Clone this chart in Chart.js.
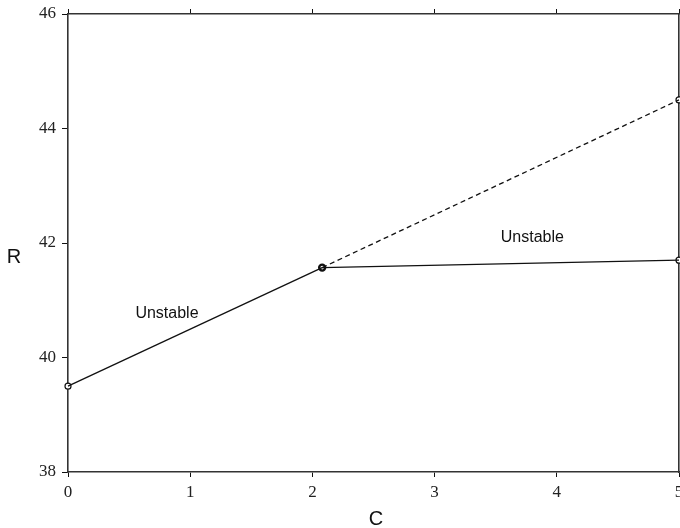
<!DOCTYPE html>
<html>
<head>
<meta charset="utf-8">
<script src="https://cdn.jsdelivr.net/npm/chart.js@4"></script>
<style>
    body { margin: 0; background: #fff; }
    canvas { display: block; }
</style>
</head>
<body>
<canvas id="grafico" width="680" height="528"></canvas>
<script>
// =====================================
// DATOS
// =====================================

const xTicks = [0, 1, 2, 3, 4, 5];
const yTicks = [38, 40, 42, 44, 46];

// rama inestable inferior
const lowerC = [0, 2.08];
const lowerR = [39.5, 41.57];

// rama solida superior
const upperC = [2.08, 5];
const upperR = [41.57, 41.7];

// rama discontinua
const dashC = [2.08, 5];
const dashR = [41.57, 44.5];

// marcadores
const markerC = [0, 2.08, 5, 5];
const markerR = [39.5, 41.57, 41.7, 44.5];

// textos
const notes = ["Unstable", "Unstable"];
const noteC = [0.81, 3.8];
const noteR = [40.77, 42.1];

const pts = (xs, ys) => xs.map((x, i) => ({ x, y: ys[i] }));

// =====================================
// TEXTOS (titulos y anotaciones)
// =====================================

const textos = {
    id: "textos",
    afterDraw(chart) {
        const ctx = chart.ctx;
        const sx = chart.scales.x;
        const sy = chart.scales.y;
        ctx.save();
        ctx.fillStyle = "#111";
        ctx.textAlign = "center";
        ctx.textBaseline = "middle";
        ctx.font = "16px 'Liberation Sans', Arial, sans-serif";
        notes.forEach((t, i) => {
            ctx.fillText(t, sx.getPixelForValue(noteC[i]), sy.getPixelForValue(noteR[i]));
        });
        ctx.font = "20px 'Liberation Sans', Arial, sans-serif";
        ctx.fillText("C", sx.getPixelForValue(2.52), 519);
        ctx.fillText("R", 14, sy.getPixelForValue(41.75));
        ctx.restore();
    }
};

// =====================================
// GRAFICO
// =====================================

const fuenteTicks = { family: "'Liberation Serif', 'Times New Roman', serif", size: 17 };

// tamaño fijo de cada eje, sin relleno extra
function fijar(tam, esVertical) {
    return scale => {
        if (esVertical) scale.width = tam; else scale.height = tam;
        scale.paddingLeft = 0;
        scale.paddingRight = 0;
        scale.paddingTop = 0;
        scale.paddingBottom = 0;
    };
}

new Chart(document.getElementById("grafico"), {
    type: "scatter",
    data: {
        datasets: [
            {
                data: pts(lowerC, lowerR),
                showLine: true,
                borderColor: "#111",
                borderWidth: 1.3,
                pointRadius: 0
            },
            {
                data: pts(upperC, upperR),
                showLine: true,
                borderColor: "#111",
                borderWidth: 1.3,
                pointRadius: 0
            },
            {
                data: pts(dashC, dashR),
                showLine: true,
                borderColor: "#111",
                borderWidth: 1.3,
                borderDash: [5, 3.5],
                pointRadius: 0
            },
            {
                data: pts(markerC, markerR),
                showLine: false,
                pointRadius: 3,
                pointBackgroundColor: "#fff",
                pointBorderColor: "#111",
                pointBorderWidth: [1.2, 2.4, 1.2, 1.2]
            }
        ]
    },
    options: {
        responsive: false,
        animation: false,
        clip: false,
        layout: { padding: 0, autoPadding: false },
        plugins: {
            legend: { display: false },
            tooltip: { enabled: false }
        },
        scales: {
            x: {
                type: "linear",
                position: "bottom",
                min: 0,
                max: 5,
                afterBuildTicks: s => { s.ticks = xTicks.map(v => ({ value: v })); },
                afterFit: fijar(56, false),
                ticks: { color: "#222", font: fuenteTicks, padding: 5 },
                grid: { drawOnChartArea: false, color: "#111", tickLength: 5, lineWidth: 1 },
                border: { color: "#333", width: 1.6 }
            },
            x2: {
                type: "linear",
                position: "top",
                min: 0,
                max: 5,
                afterBuildTicks: s => { s.ticks = xTicks.map(v => ({ value: v })); },
                afterFit: fijar(14, false),
                ticks: { display: false },
                grid: { drawOnChartArea: false, color: "#111", tickLength: 5, lineWidth: 1 },
                border: { color: "#333", width: 1.6 }
            },
            y: {
                type: "linear",
                position: "left",
                min: 38,
                max: 46,
                afterBuildTicks: s => { s.ticks = yTicks.map(v => ({ value: v })); },
                afterFit: fijar(68, true),
                ticks: { color: "#222", font: fuenteTicks, padding: 6 },
                grid: { drawOnChartArea: false, color: "#111", tickLength: 6, lineWidth: 1 },
                border: { color: "#333", width: 1.6 }
            },
            y2: {
                type: "linear",
                position: "right",
                min: 38,
                max: 46,
                afterFit: fijar(1, true),
                ticks: { display: false },
                grid: { display: false, drawTicks: false },
                border: { color: "#333", width: 1.6 }
            }
        }
    },
    plugins: [textos]
});
</script>
</body>
</html>
